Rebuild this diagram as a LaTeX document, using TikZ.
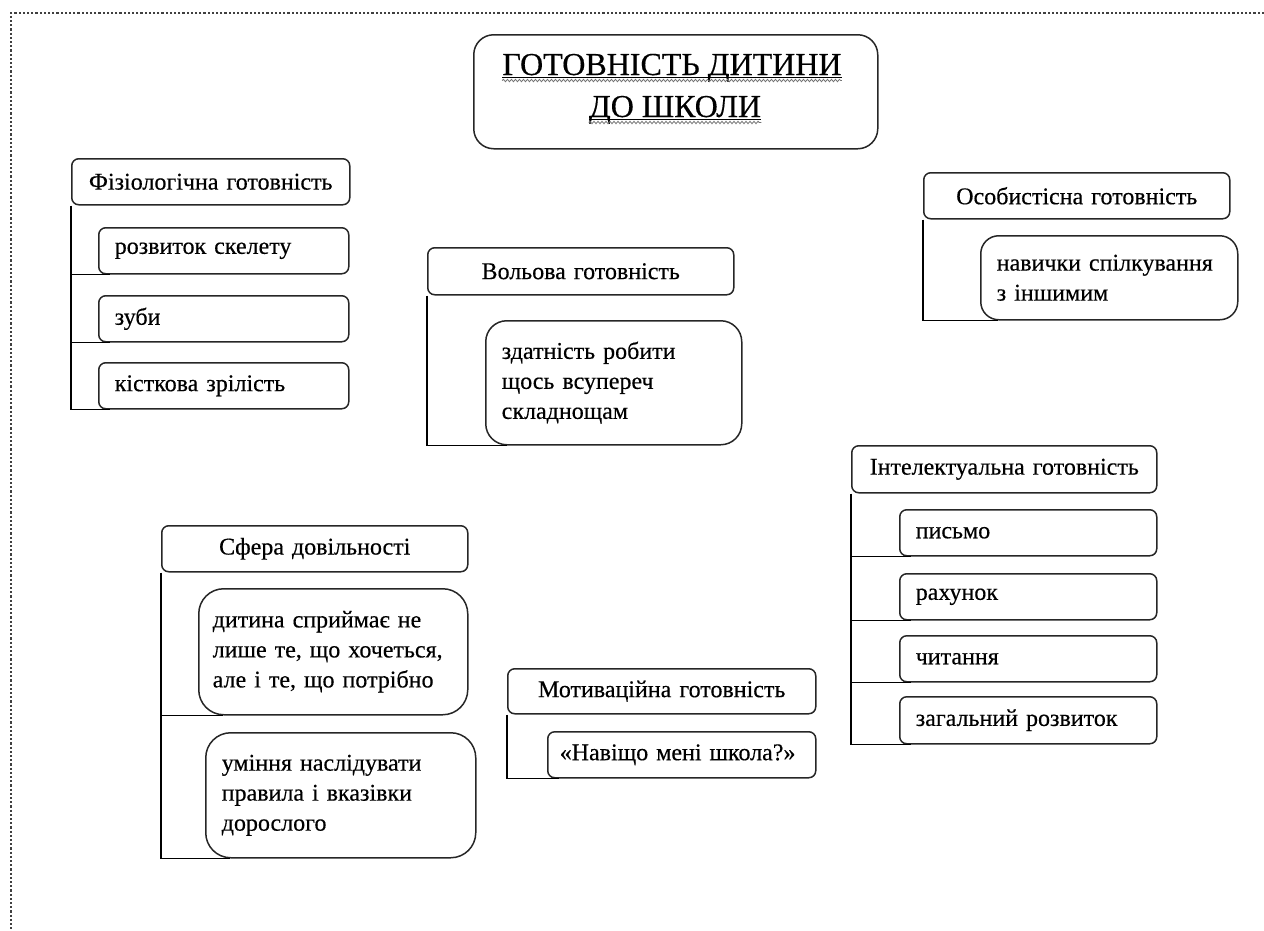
\documentclass[tikz,border=0pt]{standalone}
\usepackage{fontspec}
\setmainfont{Liberation Serif}
\newfontfamily\dfont{Liberation Serif}[FakeBold=0.4]
\usetikzlibrary{decorations.pathmorphing}
\tikzset{
  box/.style={draw=black!85, line width=1.5pt, anchor=north west, inner xsep=16pt, inner ysep=0pt,
              font=\dfont\fontsize{24}{30}\selectfont},
  hdr/.style={box, inner xsep=8pt, rounded corners=7pt, align=center},
  item/.style={box, rounded corners=7pt, align=left},
  bigitem/.style={item, rounded corners=21pt},
  bracket/.style={draw=black, line width=1.4pt},
  border/.style={draw=black!75, line width=2.2pt, dash pattern=on 2.2pt off 2pt},
  ttl/.style={anchor=base, inner sep=0pt, font=\dfont\fontsize{32}{42}\selectfont},
  wavy/.style={draw=black!55, line width=0.8pt, decorate, decoration={snake, amplitude=1.2pt, segment length=4pt}}
}
\begin{document}
\begin{tikzpicture}[x=1pt, y=-1pt]
\useasboundingbox (0,0) rectangle (1264,930);
% dotted page border
\coordinate (bTL) at (11,13);
\coordinate (bTR) at (1264,13);
\coordinate (bBL) at (11,930);
\draw[border] (bTR) -- (bTL) -- (bBL);

% title
\node[draw=black!85, line width=1.5pt, rounded corners=20pt, anchor=north west,
      minimum width=404pt, minimum height=114pt, inner sep=0pt] (title) at (473,34) {};
\node[ttl] (t1) at (672,75) {ГОТОВНІСТЬ ДИТИНИ};
\node[ttl] (t2) at (675,117) {ДО ШКОЛИ};
\draw[line width=1pt] ([yshift=-2.5pt]t1.base west) -- ([yshift=-2.5pt]t1.base east);
\draw[line width=1pt] ([yshift=-2.5pt]t2.base west) -- ([yshift=-2.5pt]t2.base east);
\draw[wavy] ([yshift=-5.5pt]t1.base west) -- ([yshift=-5.5pt]t1.base east);
\draw[wavy] ([yshift=-5.5pt]t2.base west) -- ([yshift=-5.5pt]t2.base east);

% Фізіологічна готовність
\node[hdr, text width=262pt, minimum height=46pt] (ph) at (71,158) {Фізіологічна готовність};
\node[item, text width=218pt, minimum height=46pt] (p1) at (98,227) {розвиток скелету};
\node[item, text width=218pt, minimum height=46pt] (p2) at (98,295) {зуби};
\node[item, text width=218pt, minimum height=46pt] (p3) at (98,362) {кісткова зрілість};
\draw[bracket] (ph.south west) -- (ph.south west |- p3.south) -- ([xshift=12pt]p3.south west);
\draw[bracket] (ph.south west |- p1.south) -- ([xshift=12pt]p1.south west);
\draw[bracket] (ph.south west |- p2.south) -- ([xshift=12pt]p2.south west);

% Вольова готовність
\node[hdr, text width=290pt, minimum height=47pt] (vh) at (427,247) {Вольова готовність};
\node[bigitem, text width=224pt, minimum height=124pt] (v1) at (485,320) {здатність робити\\щось всупереч\\складнощам};
\draw[bracket] (vh.south west) -- (vh.south west |- v1.south) -- ([xshift=22pt]v1.south west);

% Особистісна готовність
\node[hdr, text width=290pt, minimum height=46pt] (oh) at (923,172) {Особистісна готовність};
\node[bigitem, rounded corners=18pt, text width=225pt, minimum height=84pt] (o1) at (980,235) {навички спілкування\\з іншимим};
\draw[bracket] (oh.south west) -- (oh.south west |- o1.south) -- ([xshift=18pt]o1.south west);

% Інтелектуальна готовність
\node[hdr, text width=289pt, minimum height=47pt] (ih) at (851,445) {Інтелектуальна готовність};
\node[item, text width=225pt, minimum height=46pt] (i1) at (899,509) {письмо};
\node[item, text width=225pt, minimum height=46pt] (i2) at (899,573) {рахунок};
\node[item, text width=225pt, minimum height=46pt] (i3) at (899,635) {читання};
\node[item, text width=225pt, minimum height=47pt] (i4) at (899,696) {загальний розвиток};
\draw[bracket] (ih.south west) -- (ih.south west |- i4.south) -- ([xshift=12pt]i4.south west);
\draw[bracket] (ih.south west |- i1.south) -- ([xshift=12pt]i1.south west);
\draw[bracket] (ih.south west |- i2.south) -- ([xshift=12pt]i2.south west);
\draw[bracket] (ih.south west |- i3.south) -- ([xshift=12pt]i3.south west);

% Сфера довільності
\node[hdr, text width=290pt, minimum height=46pt] (sh) at (161,525) {Сфера довільності};
\node[bigitem, rounded corners=25pt, inner xsep=14pt, text width=241pt, minimum height=126pt] (s1) at (198,588) {дитина сприймає не\\лише те, що хочеться,\\але і те, що потрібно};
\node[bigitem, rounded corners=25pt, text width=238pt, minimum height=125pt] (s2) at (205,732) {уміння наслідувати\\правила і вказівки\\дорослого};
\draw[bracket] (sh.south west) -- (sh.south west |- s2.south) -- ([xshift=25pt]s2.south west);
\draw[bracket] (sh.south west |- s1.south) -- ([xshift=25pt]s1.south west);

% Мотиваційна готовність
\node[hdr, text width=292pt, minimum height=45pt] (mh) at (507,668) {Мотиваційна готовність};
\node[item, inner xsep=12pt, text width=244pt, minimum height=46pt] (m1) at (547,731) {«Навіщо мені школа?»};
\draw[bracket] (mh.south west) -- (mh.south west |- m1.south) -- ([xshift=12pt]m1.south west);
\end{tikzpicture}
\end{document}
